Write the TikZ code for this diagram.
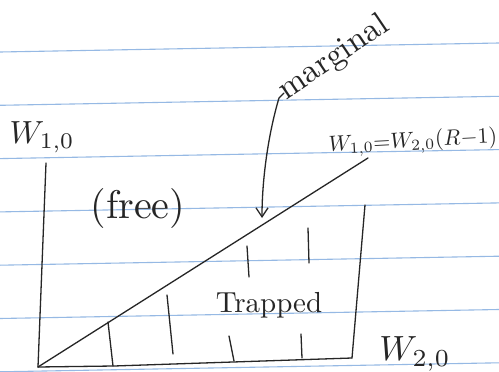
\documentclass[tikz,border=0pt]{standalone}
\usepackage{amsmath}
\usepackage{tikz}
\usetikzlibrary{arrows.meta}
\definecolor{ruled}{RGB}{150,185,228}

\begin{document}
\begin{tikzpicture}[
        x=1pt, y=-1pt,
        pen/.style = {line width=1.3pt, black!85, line cap=round, line join=round},
        rule/.style = {line width=1.1pt, ruled},
        lbl/.style = {inner sep=0pt, black!85}
    ]
        \useasboundingbox (0,0) rectangle (499,372);
        \fill[white] (0,0) rectangle (499,372);
        \foreach \k in {0,...,6}
            \draw[rule] (0,{52+53.3*\k}) -- (499,{43+53.3*\k});

        \coordinate (o)    at (38,367);
        \coordinate (ytop) at (46,163);
        \coordinate (xend) at (352,358);
        \coordinate (dend) at (368,158);
        \coordinate (rtop) at (365,205);
        \coordinate (mtip) at (262,218);

        \draw[pen] (ytop) -- (o);
        \draw[pen] (o) -- (114,366) -- (xend);
        \draw[pen] (o) -- (dend);
        \draw[pen] (rtop) -- (xend);
        \draw[pen] (108,322) -- (113,366);
        \draw[pen] (167,295) -- (173,354);
        \draw[pen] (247,246) -- (249,277);
        \draw[pen] (308,228) -- (309,263);
        \draw[pen] (229,336) -- (234,361);
        \draw[pen] (301,334) -- (302,358);

        \node[lbl, scale=3.2]             (w1)   at (42,137)  {$W_{1,0}$};
        \node[lbl, scale=3.5]             (w2)   at (415,354) {$W_{2,0}$};
        \node[lbl, scale=2.2, rotate=3]   (eq)   at (413,142) {$W_{1,0}{=}W_{2,0}(R{-}1)$};
        \node[lbl, scale=4]               (free) at (138,208) {(free)};
        \node[lbl, scale=2.9]             (trap) at (269,305) {Trapped};
        \node[lbl, scale=3.3, rotate=34]  (marg) at (334,58)  {marginal};

        \draw[pen, -{Straight Barb[length=9pt, width=12pt]}]
            (284,93) -- (279,98) .. controls (268,135) and (262,180) .. (mtip);
    \end{tikzpicture}
\end{document}
